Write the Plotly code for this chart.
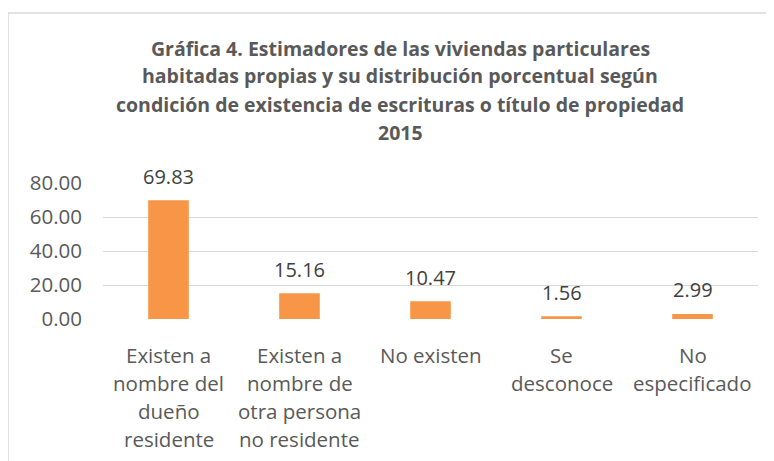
import plotly.graph_objects as go

categories = ["Existen a nombre del dueño residente",
              "Existen a nombre de otra persona no residente",
              "No existen", "Se desconoce", "No especificado"]
category_lines = [["Existen a", "nombre del", "dueño", "residente"],
                  ["Existen a", "nombre de", "otra persona", "no residente"],
                  ["No existen"],
                  ["Se", "desconoce"],
                  ["No", "especificado"]]
values = [69.83, 15.16, 10.47, 1.56, 2.99]
title_lines = ["Gráfica 4. Estimadores de las viviendas particulares",
               "habitadas propias y su distribución porcentual según",
               "condición de existencia de escrituras o título de propiedad",
               "2015"]
y_ticks = [0, 20, 40, 60, 80]

# page body adds an 8px offset; work in page pixels and convert
OFF = 8
W, H = 774 - OFF, 461 - OFF
ML, MR, MT, MB = 103 - OFF, 16, 183 - OFF, 142
PW, PH = W - ML - MR, H - MT - MB

def px_x(x):
    return (x - OFF - ML) / PW

def px_y(y):
    return (H - MB - (y - OFF)) / PH

FONT = "Open Sans, sans-serif"
TFONT = "Open Sans, sans-serif"

fig = go.Figure()
fig.add_trace(go.Bar(x=categories, y=values, width=0.31,
                     marker=dict(color="#F79646", line=dict(width=0)),
                     hoverinfo="skip"))

annotations = []
for c, v in zip(categories, values):
    annotations.append(dict(x=c, y=v, xref="x", yref="y", text=f"{v:.2f}",
                            showarrow=False, yanchor="middle", yshift=24,
                            font=dict(family=FONT, size=20, color="#404040")))
for c, lines in zip(categories, category_lines):
    for i, ln in enumerate(lines):
        annotations.append(dict(x=c, y=px_y(355 + 28 * i), xref="x", yref="paper",
                                text=ln, showarrow=False, yanchor="middle",
                                font=dict(family=FONT, size=20.5, color="#595959")))
for i, ln in enumerate(title_lines):
    annotations.append(dict(x=px_x(400), y=px_y(48 + 28 * i), xref="paper", yref="paper",
                            text=f"<b>{ln}</b>", showarrow=False, yanchor="middle",
                            xanchor="center",
                            font=dict(family=TFONT, size=19.5, color="#595959")))

shapes = [
    dict(type="line", xref="paper", yref="paper", x0=px_x(8), x1=px_x(780),
         y0=px_y(13), y1=px_y(13), line=dict(color="#D9D9D9", width=1.5)),
    dict(type="line", xref="paper", yref="paper", x0=px_x(8), x1=px_x(8),
         y0=px_y(13), y1=px_y(470), line=dict(color="#D9D9D9", width=1.5)),
]

fig.update_layout(
    width=W, height=H,
    margin=dict(l=ML, r=MR, t=MT, b=MB),
    paper_bgcolor="white", plot_bgcolor="white",
    showlegend=False,
    annotations=annotations,
    shapes=shapes,
    xaxis=dict(showticklabels=False, showgrid=False, zeroline=False,
               showline=False, fixedrange=True),
    yaxis=dict(range=[0, 80], tickvals=y_ticks, tickformat=".2f",
               showgrid=True, gridcolor="#D9D9D9", gridwidth=1.3,
               zeroline=False, showline=False, ticks="",
               ticklabelstandoff=20,
               tickfont=dict(family=FONT, size=20.5, color="#595959")),
    font=dict(family=FONT),
)

fig.write_html("out.html")
